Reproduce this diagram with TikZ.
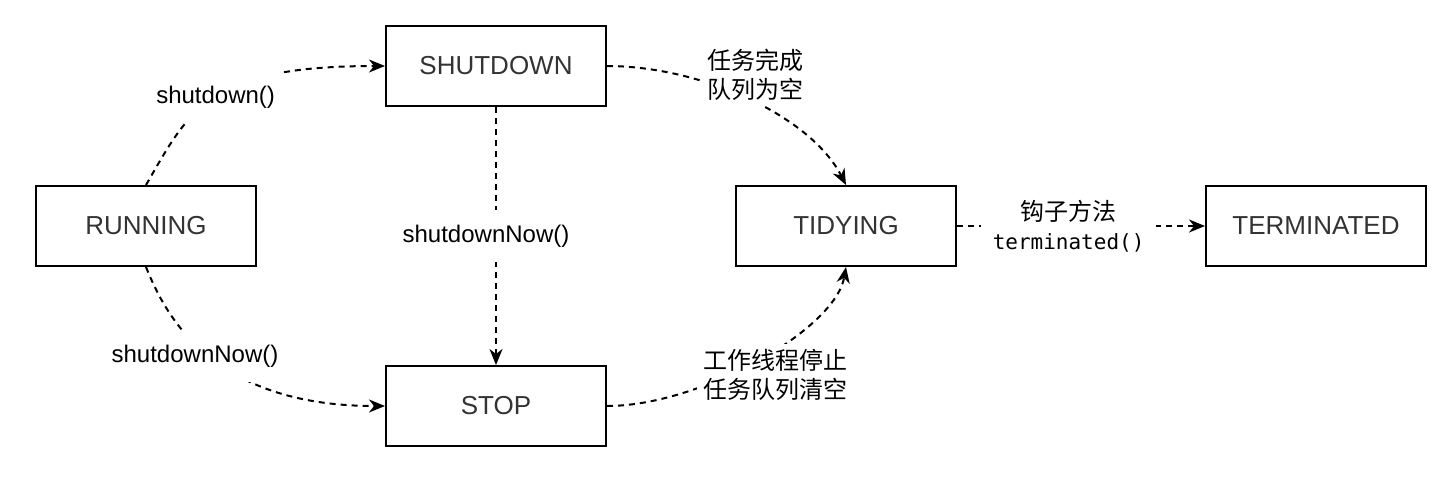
\documentclass[tikz,border=0pt]{standalone}
\usepackage{fontspec}
\setmainfont{Liberation Sans}
\newfontfamily\cjk{Noto Sans CJK SC}
\newfontfamily\monofam{DejaVu Sans Mono}
\usetikzlibrary{arrows.meta}
\begin{document}
\begin{tikzpicture}[x=1pt,y=-1pt,
  state/.style={draw=black, line width=2pt, minimum width=220pt, minimum height=80pt,
    inner sep=0pt, font=\fontsize{26}{30}\selectfont, text=black!80},
  conn/.style={line width=2pt, dash pattern=on 6pt off 5pt,
    -{Stealth[length=16pt,width=13pt,inset=5pt]}},
  lbl/.style={fill=white, inner xsep=6pt, inner ysep=15pt,
    font=\fontsize{24}{29}\selectfont, align=center, text=black},
  lbltwo/.style={lbl, inner ysep=5pt}]
\useasboundingbox (0,0) rectangle (1448,480);
\fill[white] (0,0) rectangle (1448,480);

\node[state] (run)  at (146,226)  {RUNNING};
\node[state] (shut) at (496,66)   {SHUTDOWN};
\node[state] (stop) at (496,406)  {STOP};
\node[state] (tidy) at (846,226)  {TIDYING};
\node[state] (term) at (1316,226) {TERMINATED};

\draw[conn] (run.north) .. controls (190,109) and (208,66) .. (shut.west)
  node[lbl, pos=0.5] (l1) {shutdown()};
\draw[conn] (run.south) .. controls (166,317) and (213,406) .. (stop.west);
\node[lbl] (l2) at (195,356) {shutdownNow()};
\draw[conn] (shut.south) -- (stop.north)
  node[lbl, pos=0.5, xshift=-10pt] (l3) {shutdownNow()};
\draw[conn] (shut.east) .. controls (700,66) and (810,115) .. (tidy.north);
\node[lbltwo] (l4) at (755,75) {\cjk 任务完成\\\cjk 队列为空};
\draw[conn] (stop.east) .. controls (700,406) and (835,330) .. (tidy.south);
\node[lbltwo] (l5) at (775,375) {\cjk 工作线程停止\\\cjk 任务队列清空};
\draw[conn] (tidy.east) -- (term.west)
  node[lbltwo, pos=0.45, inner xsep=12pt] (l6) {\cjk 钩子方法\\\monofam\fontsize{21}{29}\selectfont terminated()};
\end{tikzpicture}
\end{document}
